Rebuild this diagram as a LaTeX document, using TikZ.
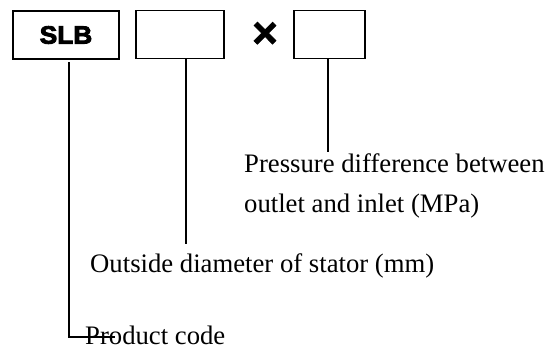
\documentclass[tikz,border=0pt]{standalone}
\usepackage{fontspec}
\setmainfont{Liberation Serif}
\newfontfamily\heavysans[BoldFeatures={FakeBold=1.6}]{Liberation Sans}
\newfontfamily\blacksans[BoldFeatures={FakeBold=3.5}]{Liberation Sans}
\begin{document}
\begin{tikzpicture}[x=1pt,y=-1pt,
  box/.style={draw,line width=1.7pt,inner sep=0pt,minimum height=48pt},
  conn/.style={line width=1.4pt},
  lbl/.style={anchor=base west,inner sep=0pt,font=\fontsize{26.7}{30}\selectfont}]
\useasboundingbox (0,0) rectangle (555,349);
\node[box,minimum width=106pt] (slb) at (66,35)
  {\scalebox{1.05}[1]{\blacksans\bfseries\fontsize{25}{26}\selectfont SLB}};
\node[box,minimum width=88pt] (od) at (180,34.5) {};
\node[inner sep=0pt,font=\heavysans\bfseries\fontsize{44}{48}\selectfont] (x) at (265,35) {×};
\node[box,minimum width=71pt] (pd) at (329.5,34.5) {};
\node[lbl] (p1) at (244,172) {Pressure difference between};
\node[lbl] (p2) at (244,212) {outlet and inlet (MPa)};
\node[lbl] (o) at (90,272) {Outside diameter of stator (mm)};
\node[lbl] (pc) at (85,344.5) {Product code};
\coordinate (c1top) at (69,62);
\coordinate (c1corner) at (69,337);
\coordinate (c1end) at (115,337);
\coordinate (c2top) at (od.south -| 186,0);
\coordinate (c2end) at (186,244);
\coordinate (c3top) at (pd.south -| 328,0);
\coordinate (c3end) at (328,152);
\draw[conn] (c1top) -- (c1corner) -- (c1end);
\draw[conn] (c2top) -- (c2end);
\draw[conn] (c3top) -- (c3end);
\end{tikzpicture}
\end{document}
